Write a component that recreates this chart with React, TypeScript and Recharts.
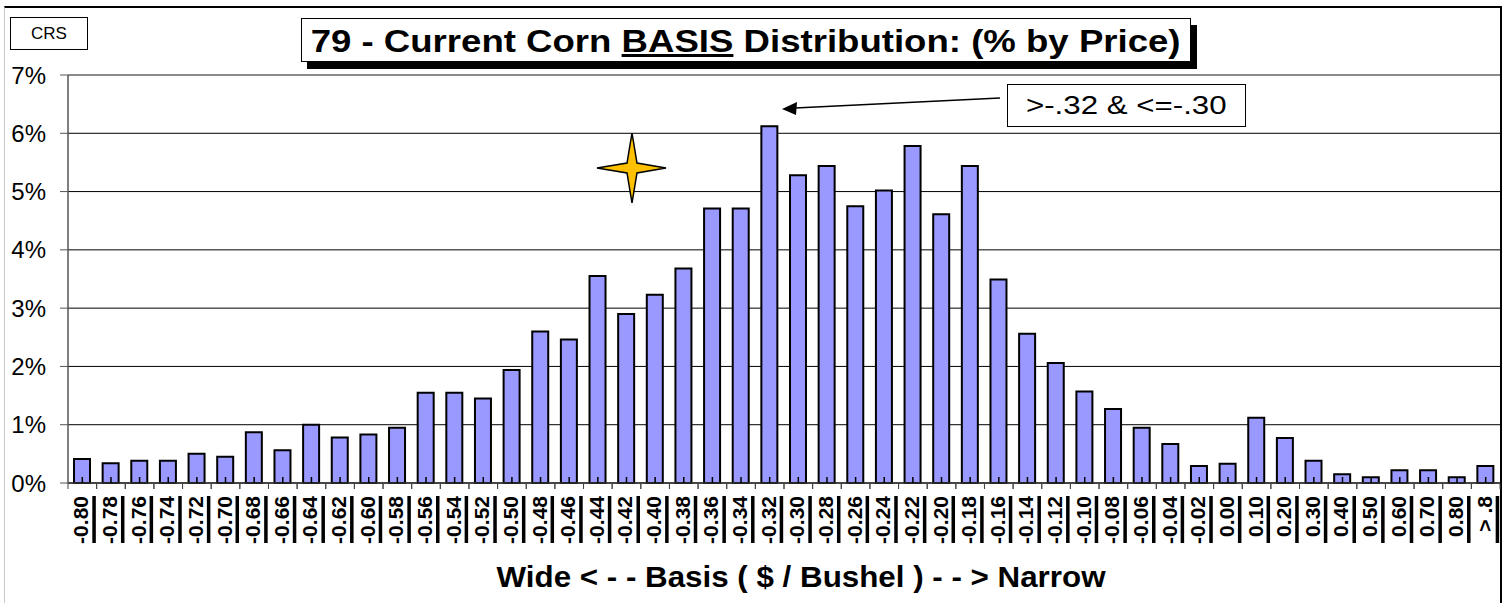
import React from 'react';
import { BarChart, Bar, XAxis, YAxis, CartesianGrid, ReferenceLine } from 'recharts';

const categories = [
  '-0.80', '-0.78', '-0.76', '-0.74', '-0.72', '-0.70', '-0.68', '-0.66', '-0.64', '-0.62',
  '-0.60', '-0.58', '-0.56', '-0.54', '-0.52', '-0.50', '-0.48', '-0.46', '-0.44', '-0.42',
  '-0.40', '-0.38', '-0.36', '-0.34', '-0.32', '-0.30', '-0.28', '-0.26', '-0.24', '-0.22',
  '-0.20', '-0.18', '-0.16', '-0.14', '-0.12', '-0.10', '-0.08', '-0.06', '-0.04', '-0.02',
  '0.00', '0.10', '0.20', '0.30', '0.40', '0.50', '0.60', '0.70', '0.80', '> .8',
];

const percentByPrice = [
  0.41, 0.34, 0.38, 0.38, 0.50, 0.45, 0.87, 0.56, 1.00, 0.78,
  0.83, 0.95, 1.55, 1.55, 1.45, 1.94, 2.60, 2.46, 3.55, 2.90,
  3.23, 3.68, 4.71, 4.71, 6.12, 5.28, 5.44, 4.75, 5.02, 5.78,
  4.61, 5.44, 3.49, 2.56, 2.06, 1.57, 1.27, 0.95, 0.67, 0.29,
  0.33, 1.12, 0.77, 0.38, 0.15, 0.10, 0.22, 0.22, 0.10, 0.29,
];

const yTicks = [0, 1, 2, 3, 4, 5, 6, 7];

const titleText = ['79 - Current Corn ', 'BASIS', ' Distribution: (% by Price)'];
const xAxisTitle = 'Wide < - - Basis ( $ / Bushel ) - - > Narrow';
const noteText = '>-.32 & <=-.30';
const legendText = 'CRS';

const data = categories.map((c, i) => ({ cat: c, v: percentByPrice[i] }));

const FONT = '"Liberation Sans", Arial, Helvetica, sans-serif';
const BAND = 1432 / categories.length;

const XTick = (props: any) => {
  const { x, y, payload } = props;
  const half = BAND / 2;
  return (
    <g>
      <line x1={x - half} x2={x - half} y1={y} y2={y + 6} stroke="#444" strokeWidth={1} />
      <line x1={x + half} x2={x + half} y1={y} y2={y + 6} stroke="#444" strokeWidth={1} />
      <line x1={x} x2={x} y1={y - 6} y2={y} stroke="#000" strokeWidth={1.5} />
      <text
        transform={`translate(${x - 1.5},${y + 13}) rotate(-90)`}
        textAnchor="end"
        dominantBaseline="central"
        fontFamily={FONT}
        fontWeight="bold"
        fontSize={21}
        fill="#000"
      >
        {payload.value}
      </text>
      <rect x={x + 10} y={y + 13} width={3.5} height={47} fill="#000" />
    </g>
  );
};

export default function App() {
  return (
    <div
      style={{
        position: 'absolute',
        left: 0,
        top: 0,
        width: 1506,
        height: 603,
        overflow: 'hidden',
        background: '#fff',
        fontFamily: FONT,
      }}
    >
      {/* outer frame */}
      <div
        style={{
          position: 'absolute',
          left: 4,
          top: 6,
          width: 1495,
          height: 640,
          borderTop: '2px solid #000',
          borderRight: '2px solid #000',
          borderLeft: '1px solid #c8c8c8',
        }}
      />
      <div style={{ position: 'absolute', left: 0, top: 0 }}>
        <BarChart
          width={1506}
          height={603}
          data={data}
          margin={{ top: 75, right: 6, bottom: 20, left: 0 }}
          barCategoryGap={0}
        >
          <CartesianGrid vertical={false} horizontal stroke="#000" strokeWidth={1} />
          <ReferenceLine y={7} stroke="#8a8a8a" strokeWidth={2} />
          <XAxis
            dataKey="cat"
            interval={0}
            height={100}
            tickLine={false}
            tickSize={0}
            tickMargin={0}
            axisLine={{ stroke: '#333', strokeWidth: 1.5 }}
            tick={<XTick />}
          />
          <YAxis
            width={68}
            domain={[0, 7]}
            ticks={yTicks}
            interval={0}
            tickSize={8}
            tickMargin={14}
            tickFormatter={(v: number) => `${v}%`}
            axisLine={{ stroke: '#555', strokeWidth: 1.5 }}
            tickLine={{ stroke: '#555' }}
            tick={{ fontSize: 24, fill: '#000', fontFamily: FONT }}
          />
          <Bar
            dataKey="v"
            fill="#9999FF"
            stroke="#000"
            strokeWidth={2}
            barSize={16}
            isAnimationActive={false}
          />
        </BarChart>
      </div>

      {/* CRS box */}
      <div
        style={{
          position: 'absolute',
          left: 10,
          top: 17,
          width: 76,
          height: 31,
          border: '1.5px solid #000',
          background: '#fff',
          display: 'flex',
          alignItems: 'center',
          justifyContent: 'center',
          fontSize: 17,
          color: '#000',
        }}
      >
        {legendText}
      </div>

      {/* title box */}
      <div
        style={{
          position: 'absolute',
          left: 301,
          top: 18,
          width: 888,
          height: 42,
          border: '1px solid #000',
          background: '#fff',
          boxShadow: '6px 7px 0 #000',
          display: 'flex',
          alignItems: 'center',
          justifyContent: 'center',
          overflow: 'visible',
        }}
      >
        <div
          style={{
            fontSize: 31,
            fontWeight: 'bold',
            color: '#000',
            whiteSpace: 'nowrap',
            transform: 'translateY(2px) scaleX(1.18)',
            lineHeight: '42px',
          }}
        >
          {titleText[0]}
          <span style={{ textDecoration: 'underline' }}>{titleText[1]}</span>
          {titleText[2]}
        </div>
      </div>

      {/* annotation box */}
      <div
        style={{
          position: 'absolute',
          left: 1007,
          top: 84,
          width: 237,
          height: 41,
          border: '1.5px solid #000',
          background: '#fff',
          display: 'flex',
          alignItems: 'center',
          justifyContent: 'center',
        }}
      >
        <div
          style={{
            fontSize: 25,
            color: '#000',
            whiteSpace: 'nowrap',
            transform: 'scaleX(1.25)',
          }}
        >
          {noteText}
        </div>
      </div>

      <svg
        width={1506}
        height={603}
        style={{ position: 'absolute', left: 0, top: 0, pointerEvents: 'none' }}
      >
        {/* arrow */}
        <line x1={1000} y1={98} x2={790} y2={108.3} stroke="#000" strokeWidth={1.5} />
        <polygon points="782,109 797,102 796,115" fill="#000" />
        {/* star */}
        <polygon
          points="632,133 637,163 666,168 637,173 632,203 627,173 597,168 627,163"
          fill="#FFC000"
          stroke="#000"
          strokeWidth={1.5}
          strokeLinejoin="miter"
        />
        {/* x-axis title */}
        <text
          x={801}
          y={587}
          textAnchor="middle"
          fontFamily={FONT}
          fontWeight="bold"
          fontSize={29}
          textLength={609}
          lengthAdjust="spacingAndGlyphs"
          fill="#000"
        >
          {xAxisTitle}
        </text>
      </svg>
    </div>
  );
}
